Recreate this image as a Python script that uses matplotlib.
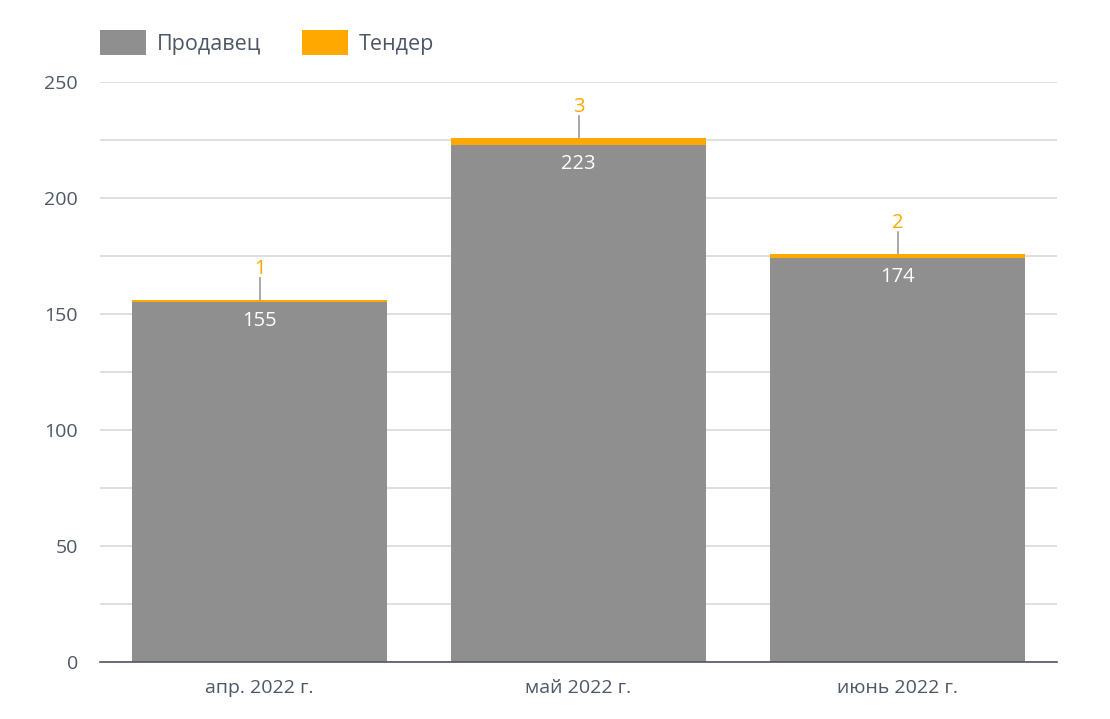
import numpy as np
import matplotlib
matplotlib.use('Agg')
from matplotlib import pyplot as plt
from matplotlib.ticker import MultipleLocator

# Data
months = ['апр. 2022 г.', 'май 2022 г.', 'июнь 2022 г.']
seller = [155, 223, 174]
tender = [1, 3, 2]

gray = '#8f8f8f'
orange = '#ffa800'
txt = '#4d5766'

plt.rcParams['font.family'] = ['Open Sans', 'DejaVu Sans']

fig = plt.figure(figsize=(11.1, 7.19), dpi=100)
ax = fig.add_axes([100/1110, 1 - 662/719, 957/1110, 580/719])

x = np.arange(len(months))
ax.bar(x, seller, width=0.8, color=gray, label='Продавец', zorder=2)
ax.bar(x, tender, width=0.8, bottom=seller, color=orange, label='Тендер', zorder=2)

# labels: seller inside the bar, tender above with a leader line
for xi, s, t in zip(x, seller, tender):
    ax.annotate(str(s), (xi, s), xytext=(0, -19), textcoords='offset pixels',
                ha='center', va='center', color='white', fontsize=14.5)
    top = s + t
    ax.plot([xi, xi], [top, top + 9.5], color='#999999', lw=1.2, zorder=1)
    ax.annotate(str(t), (xi, top), xytext=(0, 31), textcoords='offset pixels',
                ha='center', va='center', color=orange, fontsize=14.5)

ax.set_xlim(-0.5, 2.5)
ax.set_ylim(0, 250)
ax.set_xticks(x)
ax.set_xticklabels(months)
ax.yaxis.set_major_locator(MultipleLocator(50))
ax.yaxis.set_minor_locator(MultipleLocator(25))
ax.grid(axis='y', which='both', color='#d9d9d9', lw=1.2, zorder=0)
ax.set_axisbelow(True)
for sp in ['top', 'right', 'left']:
    ax.spines[sp].set_visible(False)
ax.spines['bottom'].set_color(txt)
ax.spines['bottom'].set_linewidth(1.2)
ax.tick_params(axis='both', which='both', length=0, labelsize=14, colors=txt)
ax.tick_params(axis='y', pad=16)
ax.tick_params(axis='x', pad=12)

ax.legend(loc='upper left', bbox_to_anchor=(91/1110, 1 - 21/719), bbox_transform=fig.transFigure,
          ncol=2, frameon=False, fontsize=15.5, labelcolor=txt, handlelength=2.15,
          handleheight=1.45, handletextpad=0.5, columnspacing=1.9, borderaxespad=0)

plt.savefig('out.png', dpi=100)
